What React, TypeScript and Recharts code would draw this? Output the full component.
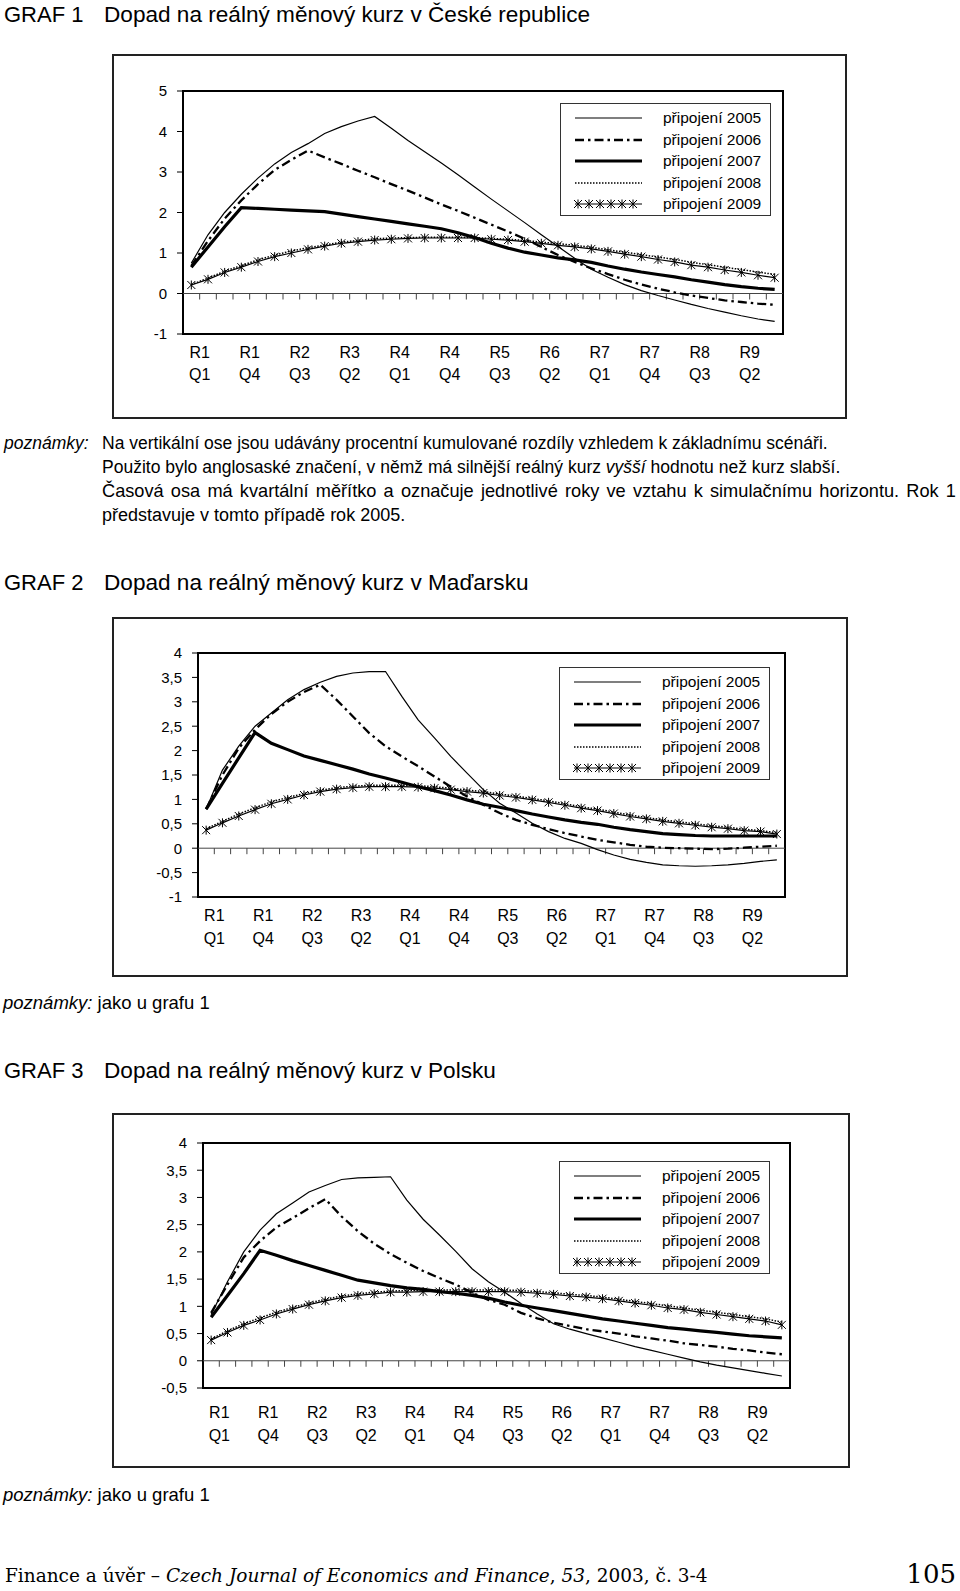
import React from 'react';
import { LineChart, Line, XAxis, YAxis, ReferenceLine, ReferenceArea } from 'recharts';

const FONT = "'Liberation Sans', Arial, Helvetica, sans-serif";
const SERIF = "'DejaVu Serif', 'Liberation Serif', serif";

// quarters of the simulation horizon (R = year, Q = quarter)
const CATEGORIES = [
  'R1 Q1', 'R1 Q2', 'R1 Q3', 'R1 Q4', 'R2 Q1', 'R2 Q2', 'R2 Q3', 'R2 Q4',
  'R3 Q1', 'R3 Q2', 'R3 Q3', 'R3 Q4', 'R4 Q1', 'R4 Q2', 'R4 Q3', 'R4 Q4',
  'R5 Q1', 'R5 Q2', 'R5 Q3', 'R5 Q4', 'R6 Q1', 'R6 Q2', 'R6 Q3', 'R6 Q4',
  'R7 Q1', 'R7 Q2', 'R7 Q3', 'R7 Q4', 'R8 Q1', 'R8 Q2', 'R8 Q3', 'R8 Q4',
  'R9 Q1', 'R9 Q2', 'R9 Q3', 'R9 Q4',
];
const TICK_LABELS = ['R1 Q1', 'R1 Q4', 'R2 Q3', 'R3 Q2', 'R4 Q1', 'R4 Q4', 'R5 Q3', 'R6 Q2', 'R7 Q1', 'R7 Q4', 'R8 Q3', 'R9 Q2'];

const SERIES_NAMES = ['připojení 2005', 'připojení 2006', 'připojení 2007', 'připojení 2008', 'připojení 2009'];

// GRAF 1 - Česká republika
const CZ_2005 = [0.75, 1.45, 2.0, 2.45, 2.85, 3.2, 3.48, 3.7, 3.95, 4.12, 4.26, 4.37, 4.08, 3.78, 3.5, 3.22, 2.93, 2.63, 2.33, 2.04, 1.75, 1.45, 1.16, 0.87, 0.6, 0.4, 0.22, 0.07, -0.05, -0.16, -0.27, -0.37, -0.46, -0.55, -0.63, -0.69];
const CZ_2006 = [0.68, 1.3, 1.85, 2.3, 2.7, 3.05, 3.3, 3.53, 3.36, 3.2, 3.03, 2.87, 2.7, 2.54, 2.37, 2.2, 2.04, 1.87, 1.7, 1.53, 1.35, 1.15, 0.95, 0.78, 0.62, 0.48, 0.34, 0.22, 0.12, 0.03, -0.05, -0.11, -0.17, -0.21, -0.25, -0.28];
const CZ_2007 = [0.65, 1.15, 1.65, 2.12, 2.1, 2.08, 2.06, 2.04, 2.02, 1.96, 1.9, 1.84, 1.78, 1.72, 1.66, 1.6, 1.5, 1.38, 1.24, 1.12, 1.02, 0.95, 0.88, 0.83, 0.77, 0.68, 0.6, 0.53, 0.47, 0.41, 0.34, 0.28, 0.22, 0.17, 0.13, 0.1];
const CZ_2008 = [0.22, 0.38, 0.55, 0.69, 0.83, 0.95, 1.05, 1.13, 1.2, 1.27, 1.31, 1.35, 1.37, 1.38, 1.39, 1.39, 1.39, 1.38, 1.36, 1.34, 1.31, 1.27, 1.23, 1.19, 1.14, 1.08, 1.02, 0.96, 0.9, 0.84, 0.77, 0.71, 0.65, 0.59, 0.53, 0.47];
const CZ_2009 = [0.21, 0.35, 0.52, 0.65, 0.79, 0.91, 1.0, 1.09, 1.17, 1.24, 1.28, 1.32, 1.34, 1.36, 1.37, 1.37, 1.37, 1.37, 1.34, 1.32, 1.28, 1.24, 1.19, 1.15, 1.1, 1.04, 0.97, 0.91, 0.84, 0.78, 0.7, 0.65, 0.58, 0.52, 0.45, 0.39];

// GRAF 2 - Maďarsko
const HU_2005 = [0.8, 1.6, 2.09, 2.5, 2.77, 3.04, 3.25, 3.4, 3.52, 3.59, 3.62, 3.62, 3.11, 2.63, 2.26, 1.88, 1.54, 1.2, 0.92, 0.72, 0.51, 0.34, 0.2, 0.1, -0.03, -0.14, -0.23, -0.29, -0.34, -0.36, -0.37, -0.36, -0.34, -0.31, -0.27, -0.24];
const HU_2006 = [0.8, 1.5, 2.05, 2.43, 2.75, 3.0, 3.2, 3.35, 3.04, 2.7, 2.36, 2.09, 1.88, 1.68, 1.47, 1.26, 1.06, 0.89, 0.72, 0.58, 0.48, 0.39, 0.31, 0.24, 0.17, 0.12, 0.07, 0.03, 0.01, 0.0, -0.01, -0.02, -0.01, 0.01, 0.03, 0.05];
const HU_2007 = [0.8, 1.33, 1.85, 2.37, 2.15, 2.02, 1.89, 1.8, 1.71, 1.62, 1.52, 1.44, 1.35, 1.26, 1.18, 1.09, 0.99, 0.9, 0.84, 0.77, 0.7, 0.64, 0.58, 0.53, 0.49, 0.43, 0.38, 0.34, 0.3, 0.28, 0.26, 0.25, 0.25, 0.25, 0.25, 0.25];
const HU_2008 = [0.4, 0.55, 0.7, 0.83, 0.95, 1.04, 1.12, 1.19, 1.24, 1.27, 1.29, 1.29, 1.29, 1.28, 1.26, 1.23, 1.19, 1.16, 1.11, 1.07, 1.02, 0.97, 0.91, 0.85, 0.8, 0.74, 0.68, 0.63, 0.58, 0.54, 0.5, 0.46, 0.43, 0.39, 0.36, 0.32];
const HU_2009 = [0.37, 0.52, 0.66, 0.79, 0.91, 1.0, 1.09, 1.16, 1.21, 1.24, 1.26, 1.26, 1.26, 1.25, 1.23, 1.2, 1.16, 1.13, 1.08, 1.04, 0.99, 0.94, 0.88, 0.82, 0.77, 0.71, 0.65, 0.6, 0.55, 0.51, 0.47, 0.43, 0.4, 0.36, 0.34, 0.29];

// GRAF 3 - Polsko
const PL_2005 = [0.85, 1.45, 2.0, 2.4, 2.7, 2.9, 3.1, 3.22, 3.33, 3.36, 3.37, 3.38, 2.95, 2.6, 2.31, 2.01, 1.69, 1.45, 1.26, 1.05, 0.86, 0.68, 0.58, 0.5, 0.42, 0.34, 0.26, 0.19, 0.12, 0.05, -0.02, -0.08, -0.13, -0.18, -0.23, -0.28];
const PL_2006 = [0.88, 1.4, 1.9, 2.2, 2.45, 2.62, 2.8, 2.97, 2.65, 2.38, 2.15, 1.96, 1.8, 1.65, 1.52, 1.4, 1.25, 1.12, 1.03, 0.88, 0.78, 0.7, 0.64, 0.58, 0.54, 0.5, 0.45, 0.41, 0.37, 0.32, 0.29, 0.26, 0.22, 0.19, 0.15, 0.12];
const PL_2007 = [0.8, 1.2, 1.6, 2.03, 1.94, 1.84, 1.75, 1.66, 1.57, 1.48, 1.43, 1.38, 1.34, 1.31, 1.27, 1.24, 1.2, 1.15, 1.08, 1.02, 0.97, 0.92, 0.87, 0.82, 0.77, 0.73, 0.69, 0.65, 0.61, 0.58, 0.55, 0.52, 0.49, 0.46, 0.44, 0.42];
const PL_2008 = [0.4, 0.55, 0.68, 0.79, 0.89, 0.98, 1.06, 1.13, 1.19, 1.23, 1.26, 1.28, 1.29, 1.3, 1.3, 1.3, 1.3, 1.3, 1.3, 1.29, 1.27, 1.25, 1.22, 1.2, 1.17, 1.13, 1.09, 1.05, 1.01, 0.97, 0.93, 0.89, 0.85, 0.81, 0.77, 0.71];
const PL_2009 = [0.38, 0.52, 0.65, 0.75, 0.86, 0.95, 1.03, 1.1, 1.16, 1.2, 1.23, 1.26, 1.26, 1.27, 1.27, 1.27, 1.27, 1.27, 1.27, 1.26, 1.24, 1.22, 1.19, 1.17, 1.14, 1.1, 1.06, 1.02, 0.97, 0.94, 0.89, 0.85, 0.81, 0.77, 0.73, 0.66];

const Y_TICKS_CZ = [-1, 0, 1, 2, 3, 4, 5];
const Y_TICKS_HU = [-1, -0.5, 0, 0.5, 1, 1.5, 2, 2.5, 3, 3.5, 4];
const Y_TICKS_PL = [-0.5, 0, 0.5, 1, 1.5, 2, 2.5, 3, 3.5, 4];

const SERIES_STYLE = [
  { key: 's2005', width: 1.2 },
  { key: 's2006', width: 2.3, dash: '9 4 2.5 4' },
  { key: 's2007', width: 3.2 },
  { key: 's2008', width: 1.5, dash: '1.5 1.5' },
  { key: 's2009', width: 1.2, marker: true },
];

const buildRows = (s: number[][]) =>
  CATEGORIES.map((c, i) => ({
    q: i,
    name: c,
    s2005: s[0][i],
    s2006: s[1][i],
    s2007: s[2][i],
    s2008: s[3][i],
    s2009: s[4][i],
  }));

const LABEL_TICKS = TICK_LABELS.map((l) => CATEGORIES.indexOf(l) + 0.5);
const BOUNDARIES = CATEGORIES.slice(1).map((_, i) => i + 0.5);
const TICK_PX = 6;

const fmt = (v: number) => String(v).replace('.', ',');

const StarDot = (p: any) => {
  const { cx, cy, index } = p;
  if (cx == null || cy == null) return <g key={`m${index}`} />;
  const s = 4;
  return (
    <g key={`m${index}`} stroke="#000" strokeWidth={1}>
      <line x1={cx - s} y1={cy - s} x2={cx + s} y2={cy + s} />
      <line x1={cx - s} y1={cy + s} x2={cx + s} y2={cy - s} />
      <line x1={cx} y1={cy - s - 0.5} x2={cx} y2={cy + s + 0.5} />
    </g>
  );
};

const QuarterTick = (p: any) => {
  const { x, y, payload, rows } = p;
  const label = CATEGORIES[Math.round(payload.value - 0.5)] || '';
  const [r, q] = label.split(' ');
  return (
    <g>
      <text x={x} y={y + rows[0]} textAnchor="middle" dominantBaseline="central" fontSize={16} fontFamily={FONT} fill="#000">{r}</text>
      <text x={x} y={y + rows[1]} textAnchor="middle" dominantBaseline="central" fontSize={16} fontFamily={FONT} fill="#000">{q}</text>
    </g>
  );
};

const LEGEND_ROWS = [14, 35.5, 57, 78.5, 100];

const LegendBox = ({ left, top }: { left: number; top: number }) => (
  <div style={{ position: 'absolute', left, top, width: 211, height: 113, border: '1.5px solid #333', boxSizing: 'border-box', background: '#fff' }}>
    {SERIES_STYLE.map((s, k) => (
      <div key={s.key} style={{ position: 'absolute', left: 0, top: LEGEND_ROWS[k] - 11, height: 22, width: '100%' }}>
        <svg style={{ position: 'absolute', left: 12, top: 0 }} width={72} height={22}>
          <line x1={2} x2={69} y1={11} y2={11} stroke="#000" strokeWidth={s.width} strokeDasharray={s.dash} />
          {s.marker &&
            [5, 16, 27, 38, 49, 60].map((mx) => (
              <g key={mx} stroke="#000" strokeWidth={1}>
                <line x1={mx - 4} y1={7} x2={mx + 4} y2={15} />
                <line x1={mx - 4} y1={15} x2={mx + 4} y2={7} />
                <line x1={mx} y1={6.5} x2={mx} y2={15.5} />
              </g>
            ))}
        </svg>
        <span style={{ position: 'absolute', left: 102, top: 0, lineHeight: '22px', fontSize: 15.5, whiteSpace: 'nowrap' }}>
          {SERIES_NAMES[k]}
        </span>
      </div>
    ))}
  </div>
);

interface ChartCfg {
  box: { left: number; top: number; w: number; h: number };
  plot: { left: number; top: number; right: number; bottom: number };
  yMin: number;
  yMax: number;
  yTicks: number[];
  rows: [number, number];
  legend: { left: number; top: number };
  series: number[][];
}

const ImpactChart = ({ cfg }: { cfg: ChartCfg }) => {
  const { box, plot, yMin, yMax, yTicks, rows, legend, series } = cfg;
  const data = buildRows(series);
  const margin = { top: plot.top - box.top, right: box.left + box.w - plot.right, bottom: 0, left: 0 };
  const tickLen = (TICK_PX * (yMax - yMin)) / (plot.bottom - plot.top);
  return (
    <>
      <div style={{ position: 'absolute', left: box.left, top: box.top, width: box.w, height: box.h }}>
        <LineChart width={box.w} height={box.h} data={data} margin={margin}>
          <XAxis
            dataKey="q"
            type="number"
            domain={[-0.5, 35.5]}
            ticks={LABEL_TICKS}
            interval={0}
            tickSize={0}
            tickMargin={0}
            axisLine={false}
            tickLine={false}
            height={box.top + box.h - plot.bottom}
            tick={(p: any) => <QuarterTick {...p} rows={rows} />}
            allowDataOverflow
          />
          <YAxis
            type="number"
            domain={[yMin, yMax]}
            ticks={yTicks}
            interval={0}
            width={plot.left - box.left}
            tickSize={6}
            tickMargin={10}
            axisLine={false}
            tickLine={{ stroke: '#000', strokeWidth: 1 }}
            tick={{ fill: '#000', fontSize: 15, fontFamily: FONT }}
            tickFormatter={fmt}
            allowDataOverflow
          />
          <ReferenceLine y={0} stroke="#444" strokeWidth={1} />
          {BOUNDARIES.map((b) => (
            <ReferenceLine key={b} segment={[{ x: b, y: 0 }, { x: b, y: -tickLen }]} stroke="#444" strokeWidth={1} />
          ))}
          {SERIES_STYLE.map((s) => (
            <Line
              key={s.key}
              dataKey={s.key}
              type="linear"
              stroke="#000"
              strokeWidth={s.width}
              strokeDasharray={s.dash}
              dot={s.marker ? StarDot : false}
              activeDot={false}
              isAnimationActive={false}
            />
          ))}
          <ReferenceArea x1={-0.5} x2={35.5} y1={yMin} y2={yMax} fill="none" stroke="#000" strokeWidth={2} />
        </LineChart>
        <div style={{ position: 'absolute', left: 0, top: 0, width: box.w, height: box.h, border: '2px solid #222', boxSizing: 'border-box', pointerEvents: 'none' }} />
      </div>
      <LegendBox left={legend.left} top={legend.top} />
    </>
  );
};

const CHART_CZ: ChartCfg = {
  box: { left: 112, top: 54, w: 735, h: 365 },
  plot: { left: 183, top: 91, right: 783, bottom: 334 },
  yMin: -1,
  yMax: 5,
  yTicks: Y_TICKS_CZ,
  rows: [18, 40],
  legend: { left: 560, top: 103 },
  series: [CZ_2005, CZ_2006, CZ_2007, CZ_2008, CZ_2009],
};

const CHART_HU: ChartCfg = {
  box: { left: 112, top: 617, w: 736, h: 360 },
  plot: { left: 198, top: 653, right: 785, bottom: 897 },
  yMin: -1,
  yMax: 4,
  yTicks: Y_TICKS_HU,
  rows: [18, 41],
  legend: { left: 559, top: 667 },
  series: [HU_2005, HU_2006, HU_2007, HU_2008, HU_2009],
};

const CHART_PL: ChartCfg = {
  box: { left: 112, top: 1113, w: 738, h: 355 },
  plot: { left: 203, top: 1143, right: 790, bottom: 1388 },
  yMin: -0.5,
  yMax: 4,
  yTicks: Y_TICKS_PL,
  rows: [24, 47],
  legend: { left: 559, top: 1161 },
  series: [PL_2005, PL_2006, PL_2007, PL_2008, PL_2009],
};

const Title = ({ cy, num, text }: { cy: number; num: string; text: string }) => (
  <>
    <div style={{ position: 'absolute', left: 4, top: cy - 13, lineHeight: '26px', fontSize: 22, whiteSpace: 'nowrap' }}>{num}</div>
    <div style={{ position: 'absolute', left: 104, top: cy - 13, lineHeight: '26px', fontSize: 22.6, whiteSpace: 'nowrap' }}>{text}</div>
  </>
);

const TextLine = ({ cy, left, width, size = 17.5, children }: { cy: number; left: number; width?: number; size?: number; children: React.ReactNode }) => (
  <div
    style={{
      position: 'absolute',
      left,
      top: cy - 12,
      lineHeight: '24px',
      fontSize: size,
      whiteSpace: 'nowrap',
      width,
      textAlign: width ? 'justify' : undefined,
      textAlignLast: width ? 'justify' : undefined,
    }}
  >
    {children}
  </div>
);

export default function App() {
  return (
    <div style={{ position: 'absolute', left: 0, top: 0, width: 960, height: 1591, background: '#fff', color: '#000', fontFamily: FONT, overflow: 'hidden' }}>
      <Title cy={15} num="GRAF 1" text="Dopad na reálný měnový kurz v České republice" />
      <ImpactChart cfg={CHART_CZ} />
      <TextLine cy={443} left={4}><i>poznámky:</i></TextLine>
      <TextLine cy={443} left={102}>Na vertikální ose jsou udávány procentní kumulované rozdíly vzhledem k základnímu scénáři.</TextLine>
      <TextLine cy={467} left={102}>Použito bylo anglosaské značení, v němž má silnější reálný kurz <i>vyšší</i> hodnotu než kurz slabší.</TextLine>
      <TextLine cy={491} left={102} width={854} size={18.2}>Časová osa má kvartální měřítko a označuje jednotlivé roky ve vztahu k simulačnímu horizontu. Rok 1</TextLine>
      <TextLine cy={515} left={102} size={18}>představuje v tomto případě rok 2005.</TextLine>

      <Title cy={583} num="GRAF 2" text="Dopad na reálný měnový kurz v Maďarsku" />
      <ImpactChart cfg={CHART_HU} />
      <TextLine cy={1003} left={3} size={18.5}><i>poznámky:</i> jako u grafu 1</TextLine>

      <Title cy={1071} num="GRAF 3" text="Dopad na reálný měnový kurz v Polsku" />
      <ImpactChart cfg={CHART_PL} />
      <TextLine cy={1495} left={3} size={18.5}><i>poznámky:</i> jako u grafu 1</TextLine>

      <div style={{ position: 'absolute', left: 5, top: 1564, lineHeight: '24px', fontSize: 18.5, fontFamily: SERIF, whiteSpace: 'nowrap' }}>
        Finance a úvěr – <i>Czech Journal of Economics and Finance</i>, <i>53</i>, 2003, č. 3-4
      </div>
      <div style={{ position: 'absolute', right: 4, top: 1558, lineHeight: '32px', fontSize: 26, fontFamily: SERIF, whiteSpace: 'nowrap' }}>105</div>
    </div>
  );
}
